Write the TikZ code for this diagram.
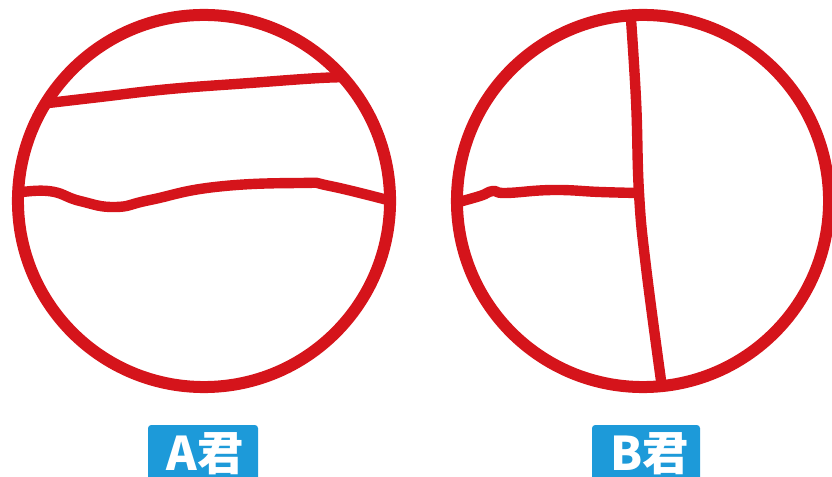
\documentclass[tikz,border=0pt]{standalone}
\usepackage{fontspec}
\newfontfamily\cjk{Noto Sans CJK SC}
\definecolor{ringred}{HTML}{D5141B}
\definecolor{tagblue}{HTML}{1D9AD9}

\begin{document}
\begin{tikzpicture}[
  x=0.025cm, y=-0.025cm,
  ring/.style={draw=ringred, line width=0.3cm},
  cut/.style={draw=ringred, line width=0.26cm, line cap=round, line join=round},
  tagbox/.style={fill=tagblue, rounded corners=0.08cm},
  tagtxt/.style={font=\cjk\bfseries\fontsize{33}{33}\selectfont, text=white, anchor=base, inner sep=0pt},
]
\clip (0,0) rectangle (832,477);
\useasboundingbox (0,0) rectangle (832,477);

% ====== A: two cuts across ======
\begin{scope}
  \clip (204,201) circle[radius=4.65cm];
  \draw[cut] plot[smooth, tension=0.7] coordinates
    {(40,104) (100,97) (170,89) (250,83) (320,78) (360,77)};
  \draw[cut] plot[smooth, tension=0.8] coordinates
    {(10,194) (48,191) (80,201) (115,207) (150,200) (215,187) (300,183) (330,186) (395,202)};
\end{scope}
\draw[ring] (204,201) circle[radius=4.65cm];

% ====== B: one cut down, one cut to the side ======
\begin{scope}
  \clip (643,201) circle[radius=4.65cm];
  \draw[cut] plot[smooth, tension=0.7] coordinates
    {(630,5) (636,100) (639,193) (646,267) (663,395)};
  \draw[cut] plot[smooth, tension=0.8] coordinates
    {(455,203) (480,196) (493,191) (506,193) (553,190) (600,192) (638,193)};
\end{scope}
\draw[ring] (643,201) circle[radius=4.65cm];

% ====== tags ======
\fill[tagbox] (148,425) rectangle (258,495);
\node[tagtxt] (tagA) at (205,470) {A君};
\fill[tagbox] (592,425) rectangle (700,495);
\node[tagtxt] (tagB) at (650,470) {B君};

\end{tikzpicture}
\end{document}
